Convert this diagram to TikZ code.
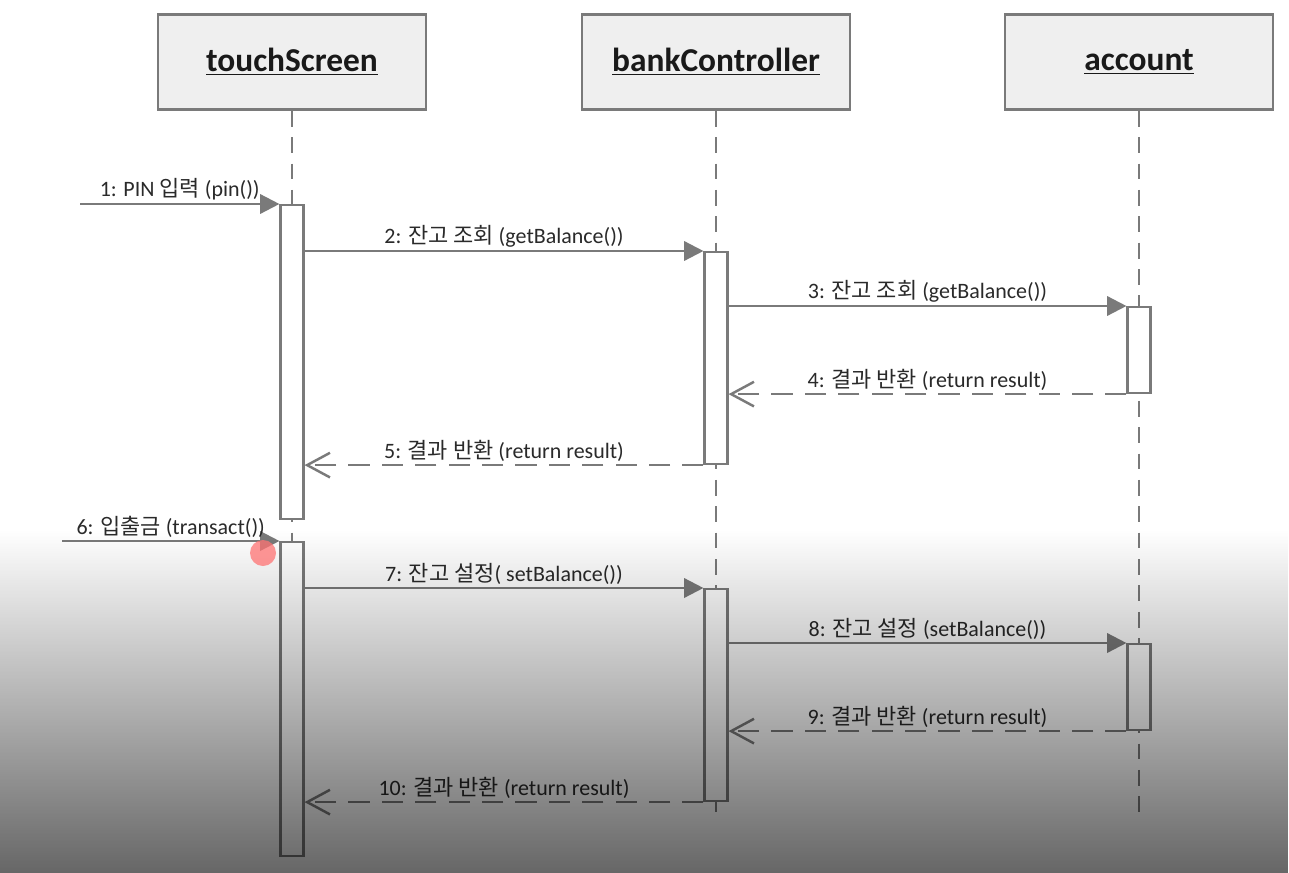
\documentclass[tikz,border=0pt]{standalone}
\usepackage{fontspec}
\setmainfont{Carlito}
\newfontfamily\kr{Noto Sans CJK KR}
\usepackage{xcolor}
\usetikzlibrary{arrows.meta,positioning,calc,fadings}

\definecolor{lineGray}{HTML}{7A7A7A}
\definecolor{boxFill}{HTML}{EFEFEF}
\definecolor{txtGray}{HTML}{2A2A2A}

\tikzfading[name=darken, top color=transparent!100, bottom color=transparent!0]

\tikzset{
  obj/.style={draw=lineGray, line width=1.6pt, fill=boxFill, minimum width=53.6mm, minimum height=19mm, text=black!90, font=\fontsize{19}{22}\selectfont\bfseries},
  act/.style={draw=lineGray, line width=1.2pt, fill=white, minimum width=4.6mm, anchor=north, inner sep=0pt},
  life/.style={draw=lineGray, line width=1pt, dash pattern=on 9pt off 6pt},
  msg/.style={draw=lineGray, line width=1.4pt, -{Triangle[length=11pt,width=11pt]}},
  ret/.style={draw=lineGray, line width=1.4pt, dash pattern=on 12pt off 7pt, -{Straight Barb[length=13pt,width=14pt]}},
  lbl/.style={above, inner sep=1.5pt, text=txtGray, font=\fontsize{12.5}{14}\selectfont}
}

\begin{document}
\begin{tikzpicture}[x=0.2mm,y=-0.2mm]
  \useasboundingbox (0,0) rectangle (1289,873);
  \fill[white] (0,0) rectangle (1289,873);

  % Objects
  \node[obj] (ts) at (292,62) {\underline{touchScreen}};
  \node[obj] (bc) at (716,62) {\underline{bankController}};
  \node[obj] (ac) at (1139,62) {\underline{account}};

  % Lifelines
  \coordinate (tsEnd) at (292,850);
  \coordinate (bcEnd) at (716,815);
  \coordinate (acEnd) at (1139,815);
  \draw[life] (ts.south) -- (tsEnd);
  \draw[life] (bc.south) -- (bcEnd);
  \draw[life] (ac.south) -- (acEnd);

  % Activations
  \node[act, minimum height=62.8mm] (ts1) at (292,204) {};
  \node[act, minimum height=42.4mm] (bc1) at (716,251) {};
  \node[act, minimum height=17.2mm] (ac1) at (1139,306) {};
  \node[act, minimum height=62.8mm] (ts2) at (292,541) {};
  \node[act, minimum height=42.4mm] (bc2) at (716,588) {};
  \node[act, minimum height=17.2mm] (ac2) at (1139,643) {};

  % Balance query
  \coordinate (in1) at (80,204);
  \draw[msg] (in1) -- (ts1.north west) node[lbl, midway] {1: PIN {\kr 입력} (pin())};
  \draw[msg] (ts1.east |- bc1.north) -- (bc1.north west) node[lbl, midway] {2: {\kr 잔고 조회} (getBalance())};
  \draw[msg] (bc1.east |- ac1.north) -- (ac1.north west) node[lbl, midway] {3: {\kr 잔고 조회} (getBalance())};
  \draw[ret] (ac1.south west) -- (bc1.east |- ac1.south) node[lbl, midway] {4: {\kr 결과 반환} (return result)};
  \draw[ret] (bc1.south west) -- (ts1.east |- bc1.south) node[lbl, midway] {5: {\kr 결과 반환} (return result)};

  % Transaction
  \coordinate (in2) at (62,541);
  \draw[msg] (in2) -- (ts2.north west) node[lbl, midway] {6: {\kr 입출금} (transact())};
  \draw[msg] (ts2.east |- bc2.north) -- (bc2.north west) node[lbl, midway] {7: {\kr 잔고 설정}( setBalance())};
  \draw[msg] (bc2.east |- ac2.north) -- (ac2.north west) node[lbl, midway] {8: {\kr 잔고 설정} (setBalance())};
  \draw[ret] (ac2.south west) -- (bc2.east |- ac2.south) node[lbl, midway] {9: {\kr 결과 반환} (return result)};
  \draw[ret] (bc2.south west) -- (ts2.east |- bc2.south) node[lbl, midway] {10: {\kr 결과 반환} (return result)};

  % Shade and pointer
  \fill[black, opacity=0.6, path fading=darken] (0,530) rectangle (1289,873);
  \fill[red!55!white, opacity=0.75] (263,553) circle[radius=2.6mm];
\end{tikzpicture}
\end{document}
